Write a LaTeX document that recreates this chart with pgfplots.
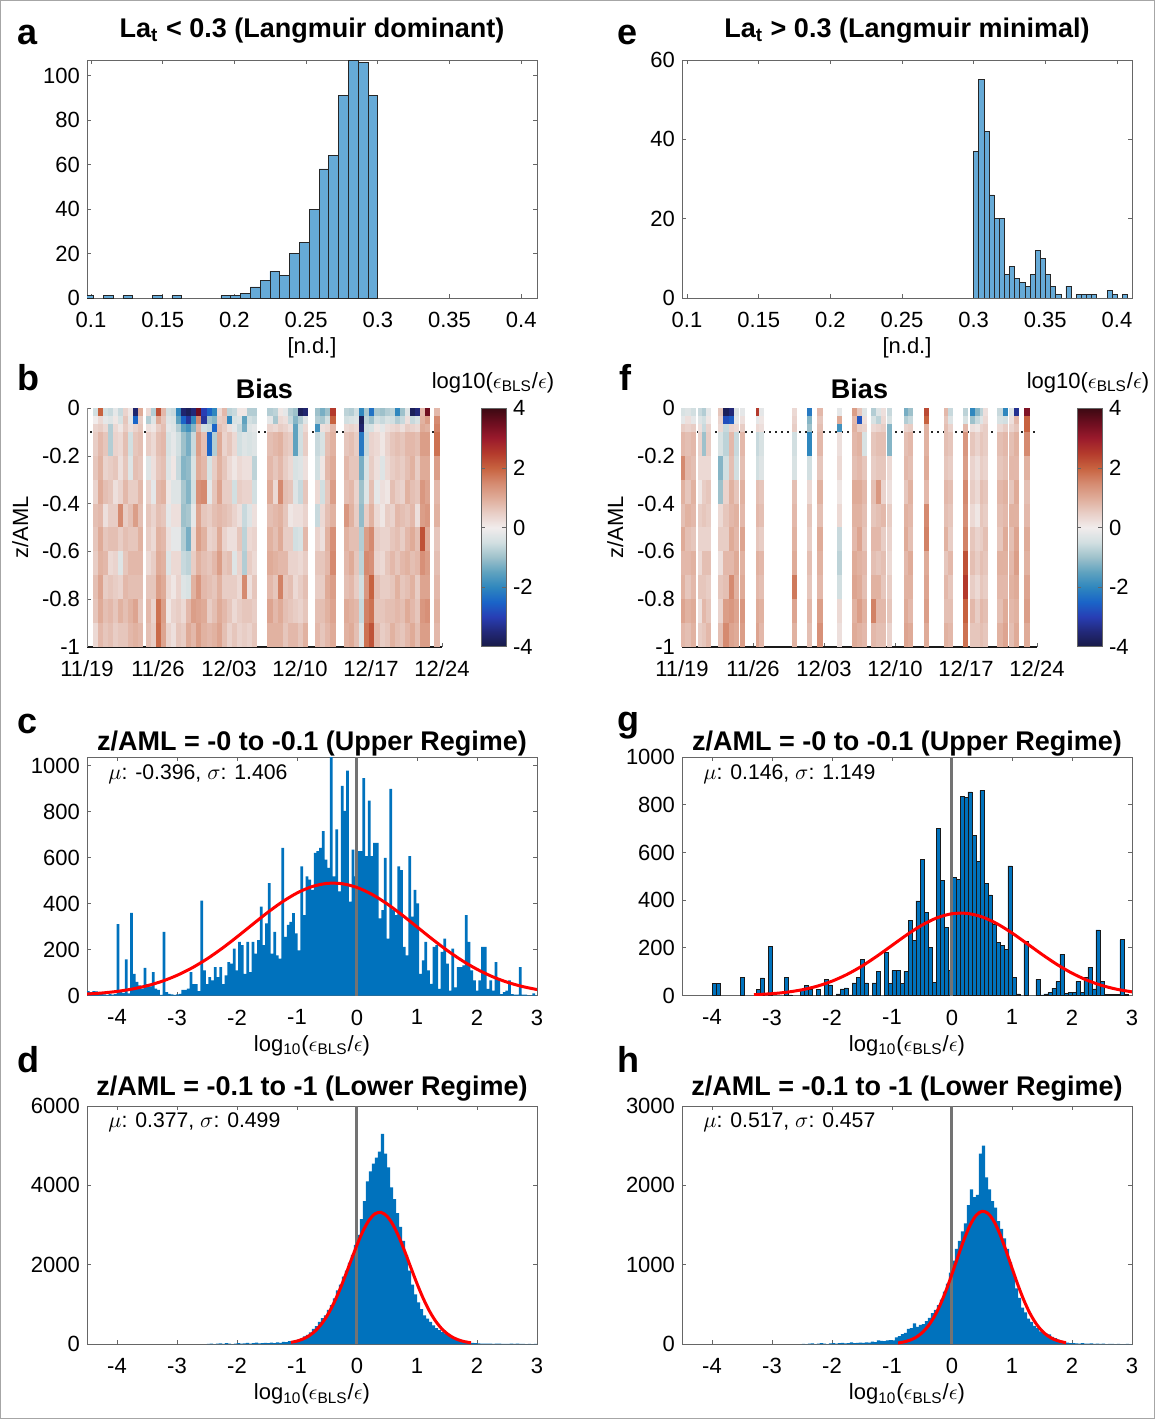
\documentclass[border=0pt]{standalone}
\usepackage{fontspec}
\setmainfont{Liberation Sans}
\usepackage{pgfplots}
\pgfplotsset{compat=1.18}
\usepackage{pgfplotstable}
\definecolor{mblue}{RGB}{0,114,189}
\definecolor{hblue}{RGB}{102,170,215}
\pgfplotsset{colormap={bias}{rgb255=(24,26,70) rgb255=(34,40,120) rgb255=(40,62,180) rgb255=(26,100,200) rgb255=(47,135,190) rgb255=(95,162,191) rgb255=(158,193,203) rgb255=(210,223,225) rgb255=(241,236,236) rgb255=(232,205,197) rgb255=(223,171,152) rgb255=(213,138,112) rgb255=(199,98,63) rgb255=(180,58,44) rgb255=(154,26,44) rgb255=(110,14,32) rgb255=(60,9,18)}}
\pgfdeclareplotmark{cellS}{\pgfpathrectangle{\pgfpoint{-1.3pt}{-2.05pt}}{\pgfpoint{2.6pt}{4.1pt}}\pgfusepathqfill}
\pgfdeclareplotmark{cellL}{\pgfpathrectangle{\pgfpoint{-1.3pt}{-6.02pt}}{\pgfpoint{2.6pt}{12.04pt}}\pgfusepathqfill}
\pgfplotsset{
 mstyle/.style={scale only axis, anchor=north west, enlargelimits=false, tick align=inside,
   axis line style={black!60, line width=0.4pt}, tick style={black!60, line width=0.4pt}, major tick length=2pt,
   ticklabel style={font=\fontsize{11}{13}\selectfont}, label style={font=\fontsize{11}{13}\selectfont},
   xticklabel style={yshift=-3.5pt}, xlabel style={yshift=1.8pt},
   /pgf/number format/assume math mode=true, /pgf/number format/1000 sep={}, scaled ticks=false,
   title style={font=\bfseries\fontsize{13.5}{15}\selectfont, at={(0.5,1)}, anchor=base}},
 hmstyle/.style={mstyle, xmin=0, xmax=35, ymin=-1, ymax=0, width=177.5pt, height=119.2pt,
   axis x line*=bottom, axis y line*=left, x axis line style={black!90, line width=1.1pt, -}, y axis line style={black!45, -},
   xtick={0,7,14,21,28,35}, xticklabels={11/19,11/26,12/03,12/10,12/17,12/24},
   ytick={-1,-0.8,-0.6,-0.4,-0.2,0}, ylabel={z/AML}, title={Bias}, title style={yshift=-1.2pt},
   colormap name=bias, point meta min=-4, point meta max=4, colorbar},
 cbstyle/.style={colorbar style={scale only axis, width=12.5pt, height=119.2pt, at={(parent axis.north east)}, anchor=north west, xshift=#1,
   ytick={-4,-2,0,2,4}, yticklabel pos=right, tick align=inside, major tick length=2pt, axis line style={black!60}, tick style={black!60},
   yticklabel style={font=\fontsize{11}{13}\selectfont}, /pgf/number format/assume math mode=true}},
}
\newcommand\epsl{log\textsubscript{10}($\epsilon$\textsubscript{BLS}/$\epsilon$)}

\pgfplotstableread{
x r1 r2 r3 r4 r5 r6 r7 r8 r9 r10 r11 r12
0.81 -0.5 0.0 0.4 0.5 0.6 0.4 0.7 0.6 0.5 0.7 0.6 0.3
1.31 2.0 0.3 0.5 0.8 0.9 1.0 0.8 1.0 0.9 1.1 1.0 0.8
1.81 -0.5 -0.2 0.3 0.6 0.4 0.7 0.2 0.6 0.8 0.5 0.7 0.6
2.31 -0.6 -0.3 -0.8 -0.8 0.5 0.6 0.5 0.7 0.3 0.6 0.8 0.7
2.81 -0.2 0.1 0.3 0.4 0.6 0.2 0.5 0.7 0.4 0.5 0.6 0.5
3.31 -0.6 -0.4 0.1 0.3 0.2 0.4 1.5 0.5 -0.3 0.4 0.9 0.6
3.81 0.4 0.6 0.5 0.7 0.6 0.8 0.5 0.7 0.6 0.8 0.7 0.6
4.31 0.1 -0.2 0.2 -0.5 -0.3 0.5 0.7 0.6 0.8 0.7 0.9 0.8
4.81 -3.6 -2.5 0.4 0.6 0.7 0.5 1.2 0.6 0.8 0.7 1.1 0.9
5.31 1.0 0.5 0.6 0.7 0.6 0.8 0.7 0.9 0.8 0.7 0.6 0.8
6.04 0.3 -0.8 0.2 0.5 -0.3 0.4 0.6 0.5 0.3 0.6 0.8 0.7
6.54 -0.8 -0.3 0.1 0.3 0.2 -0.2 0.4 0.3 0.5 0.6 0.4 0.5
7.04 2.2 1.0 0.5 0.7 0.6 0.8 0.7 0.9 1.0 1.2 1.8 1.9
7.54 0.8 0.6 0.7 0.8 0.7 0.9 0.6 0.8 0.9 1.0 1.2 1.1
8.04 -0.5 -0.3 -0.2 -0.4 -0.3 0.1 -0.2 0.2 -0.3 0.3 0.1 0.4
8.54 -0.6 -0.4 -0.3 -0.2 0.1 -0.3 0.2 -0.2 0.3 0.1 0.4 0.2
9.04 -2.0 -1.5 -0.8 -0.5 -0.6 -0.3 0.2 -0.2 0.3 0.4 0.5 0.6
9.54 -3.6 -2.5 -1.5 -1.0 -1.2 -0.9 -1.0 -0.8 -0.6 -0.3 0.3 0.5
10.04 -3.8 -3.2 -1.8 -1.3 -1.1 -1.2 -0.9 -1.3 -0.7 -0.4 0.8 1.0
10.54 -3.5 -2.0 -1.2 -0.6 -0.4 -0.5 -0.2 0.3 0.5 0.9 1.2 0.8
11.04 3.5 1.5 0.8 1.2 1.0 1.4 1.1 1.2 0.9 1.3 1.1 1.2
11.54 -3.0 -3.2 -0.5 0.7 0.8 1.5 0.6 0.9 0.7 0.8 1.0 0.9
12.04 -2.5 -1.0 -0.6 -2.5 -0.4 -0.2 0.5 0.4 0.6 0.7 0.5 0.8
12.54 -2.0 -1.2 -2.5 -0.8 0.5 0.6 0.7 0.5 0.8 0.6 0.7 0.9
13.04 0.3 0.5 0.7 1.0 0.9 1.1 0.8 1.0 1.2 0.9 1.0 1.1
13.54 0.8 0.6 0.5 0.4 0.6 0.5 0.7 0.4 0.6 0.5 0.8 0.7
14.04 -0.7 -2.0 0.2 0.6 0.3 0.5 0.6 0.2 0.7 0.5 0.6 0.4
14.54 -0.6 -0.4 -0.2 0.3 0.1 -0.5 0.4 0.2 -0.3 0.5 0.3 0.6
15.04 0.1 -0.3 -0.6 -0.5 0.3 0.5 0.2 0.6 0.4 0.3 0.5 0.4
15.54 0.1 -1.5 -1.3 -0.3 0.2 0.4 -0.6 -0.7 -0.8 1.5 0.6 0.5
16.04 -0.8 -0.5 -0.3 -0.4 0.2 0.4 -0.3 0.3 0.5 0.2 0.6 0.4
16.54 -0.8 -0.6 -0.2 -0.3 -0.7 -0.5 0.2 0.4 0.3 0.6 0.5 0.6
18.05 -0.8 -0.2 0.4 0.7 0.8 1.0 0.7 0.9 1.0 0.8 1.1 0.9
18.55 -0.7 -0.9 0.3 0.8 0.6 0.3 0.8 0.7 0.9 0.6 0.8 0.9
19.05 0.1 0.3 0.5 0.9 0.8 1.5 0.9 1.0 0.8 1.6 1.0 0.9
19.55 -0.2 0.2 0.4 0.6 0.5 0.7 0.6 0.5 0.8 0.6 0.7 0.6
20.05 -0.8 -0.6 0.2 0.5 0.3 0.6 0.1 0.5 0.4 0.7 0.6 0.8
20.55 -1.0 -1.2 -1.5 -1.5 -0.4 -0.3 0.2 -0.5 0.4 0.3 0.5 0.8
21.05 -3.8 -0.8 -0.5 -0.5 -0.3 -0.6 0.2 -0.4 0.3 0.5 0.4 0.6
21.55 -3.6 -0.3 0.3 0.5 0.2 0.6 0.4 0.8 0.5 0.7 0.6 0.9
22.75 -1.0 -0.8 -1.8 -0.6 -0.5 0.3 -0.6 0.4 0.6 0.5 0.7 0.8
23.25 -1.3 -0.9 0.2 -0.4 0.1 -0.5 0.3 0.2 0.6 0.5 0.7 0.6
23.75 -1.0 -0.5 0.3 0.7 0.8 0.6 0.7 0.9 0.8 1.0 0.9 0.8
24.25 2.5 2.0 0.8 0.9 1.0 1.2 0.9 1.4 1.5 1.2 1.1 1.0
25.6 -0.7 -0.5 0.3 0.6 0.8 0.7 1.3 0.9 0.8 0.7 1.0 0.9
26.1 -0.8 -0.4 0.4 0.7 0.6 0.8 0.9 0.7 1.0 0.8 0.9 1.0
26.6 -0.5 -0.3 0.3 0.5 0.6 0.4 0.5 0.7 0.6 0.5 0.8 0.7
27.1 -2.0 -3.8 -3.6 -2.2 -1.3 -1.0 -1.1 -0.8 -0.7 -0.5 -0.6 -0.3
27.6 -0.9 -0.7 -0.5 -0.6 -0.4 -0.3 0.5 1.2 1.5 1.3 1.6 1.8
28.1 -2.3 -1.0 -0.4 0.4 0.5 0.7 0.9 1.5 1.4 2.0 1.8 2.2
28.6 -0.9 -0.5 0.1 0.3 0.2 -0.2 0.3 0.5 0.4 0.7 0.6 0.8
29.1 -1.0 -0.6 -0.2 0.1 -0.3 0.2 0.1 0.4 0.3 0.5 0.6 0.5
29.6 -0.8 -0.4 0.2 0.4 0.3 0.1 0.5 0.4 0.6 0.5 0.7 0.6
30.1 -0.7 -0.5 0.3 0.6 0.5 0.7 0.4 0.6 0.8 0.6 0.7 0.9
30.6 -2.0 -0.8 0.4 0.7 0.6 0.5 0.8 0.7 0.6 0.9 0.8 0.7
31.1 -1.0 -0.6 0.2 0.6 0.5 0.4 0.7 0.5 0.8 0.6 0.7 0.6
31.6 -0.3 0.2 0.5 0.8 0.7 0.9 0.6 0.8 0.9 0.7 1.0 0.8
32.1 -3.8 -0.6 0.4 0.8 0.9 0.7 0.8 1.0 0.7 0.9 0.8 1.0
32.6 -3.5 -0.4 0.3 0.7 0.5 0.6 0.2 0.7 0.8 0.5 0.6 0.7
33.1 0.8 0.9 1.0 1.2 1.0 1.3 1.2 2.2 1.4 1.1 1.3 1.2
33.6 3.5 1.2 0.9 1.2 1.0 1.1 1.3 1.0 1.2 1.1 1.4 1.2
34.5 0.8 1.5 1.6 1.8 1.2 0.8 0.9 0.6 0.7 0.8 0.9 0.8
}\biasB

\pgfplotstableread{
x r1 r2 r3 r4 r5 r6 r7 r8 r9 r10 r11 r12
0.2 -0.4 -0.2 0.5 0.8 1.5 0.9 0.7 1.0 0.8 0.9 1.1 0.8
0.6 -0.3 0.2 0.4 0.7 0.8 0.6 0.9 0.7 0.8 0.6 0.9 0.7
1.12 -0.5 -0.2 0.5 0.8 0.7 0.9 0.8 0.6 0.9 0.8 1.0 0.9
1.8 -0.6 -0.3 0.2 0.4 0.3 0.1 0.5 0.4 0.3 0.6 0.2 0.5
2.2 -0.8 -0.5 -0.6 -1.0 0.3 0.5 0.6 0.4 0.7 0.6 0.8 0.6
2.6 -0.2 0.1 0.4 0.5 0.3 0.6 0.5 0.4 0.7 0.5 0.6 0.8
3.8 0.6 0.4 0.3 -0.4 -1.2 -1.0 0.3 0.5 0.2 0.6 0.4 0.7
4.33 -3.8 -2.8 -0.6 -0.7 -0.5 0.4 0.6 0.5 0.8 0.7 1.2 1.5
4.86 -3.5 -2.6 0.4 0.8 0.7 0.9 0.8 1.0 0.8 1.5 1.3 1.1
5.4 -0.3 -0.2 0.3 -0.6 -0.5 0.6 0.9 0.8 1.0 0.9 1.1 1.0
5.95 -0.2 0.2 0.5 0.8 0.7 0.9 0.8 1.1 0.9 1.0 1.3 1.2
7.55 2.5 -0.2 0.3 -0.6 -0.5 0.7 0.8 0.6 0.9 0.8 1.0 1.1
7.85 -0.2 0.1 0.2 -0.4 -0.3 0.6 0.7 0.5 0.8 0.7 0.9 0.8
11.07 0.3 0.4 0.5 -0.5 -0.4 0.7 0.8 0.9 1.0 1.7 1.1 0.9
12.55 -2.2 -1.2 -1.0 -2.0 -0.5 0.3 0.6 0.5 0.7 0.6 0.8 0.7
13.6 0.8 0.6 0.7 0.8 0.6 0.9 0.7 1.0 0.9 0.8 1.2 1.4
15.5 -0.2 1.0 -1.8 0.2 0.3 0.1 0.3 -0.6 -0.7 -0.5 0.3 0.2
16.98 1.2 0.8 0.9 0.8 0.7 1.0 0.9 0.8 1.0 1.1 0.9 1.0
17.47 0.6 -2.7 0.5 0.9 0.8 1.0 0.9 1.1 0.9 1.0 1.2 0.9
17.96 -0.3 0.2 0.4 -0.4 0.6 0.8 0.7 0.6 0.8 0.7 0.9 0.8
18.85 -0.8 -0.4 0.3 0.6 0.5 0.7 0.6 0.8 0.7 0.9 1.6 0.8
19.37 -0.3 -0.7 0.4 0.7 0.6 1.3 0.7 0.8 0.6 0.9 0.8 0.7
19.9 0.2 0.3 0.5 0.7 0.6 0.4 0.8 0.5 0.7 0.6 0.8 0.7
20.45 -0.6 -0.4 -1.2 -1.2 0.3 0.2 0.5 0.4 0.3 0.5 0.6 0.4
22.15 -1.3 -0.8 0.4 0.7 0.8 0.6 0.9 1.0 0.8 0.9 1.0 1.1
22.55 -1.0 -0.6 0.5 0.8 0.7 0.9 0.8 0.7 1.0 0.9 0.8 1.0
24.12 2.3 2.0 0.9 0.9 1.0 0.8 1.5 1.6 1.0 1.1 1.2 1.0
26.05 0.8 0.6 0.7 0.7 0.6 0.8 0.7 0.9 0.6 0.8 0.7 0.9
26.45 -0.6 -0.3 0.4 0.6 0.5 0.7 0.6 0.5 0.8 0.6 0.7 0.8
27.95 -0.7 -0.4 0.8 1.3 1.2 1.5 1.4 1.6 2.2 2.5 2.0 1.8
28.65 -2.0 -1.0 0.2 0.6 0.4 0.5 0.3 0.6 0.7 0.5 0.8 0.6
29.15 -1.2 -0.6 0.1 0.4 0.2 0.3 0.1 0.4 0.5 0.3 0.5 0.6
29.6 -0.7 -0.3 0.4 0.6 0.5 0.7 0.6 0.5 0.7 0.6 0.8 0.7
29.95 0.2 0.3 0.5 0.5 0.4 0.6 0.5 0.7 0.6 0.5 0.7 0.6
31.35 -0.6 -0.4 0.3 0.7 0.6 0.8 0.7 0.6 0.9 0.8 0.7 0.9
31.9 -2.0 -0.5 0.5 0.8 0.7 0.9 0.8 1.0 0.9 0.8 1.0 1.1
32.45 -0.3 0.2 0.4 0.7 0.8 0.6 0.9 0.7 0.8 0.9 0.8 0.7
32.97 -3.3 0.8 0.6 0.9 0.8 1.0 0.9 1.1 1.2 1.0 0.9 1.0
34.02 3.3 2.0 2.0 1.5 0.9 0.7 0.8 1.0 0.9 1.1 1.2 1.0
}\biasF

\pgfplotstableread{
x y
-4.4775 20
-4.4325 15
-4.3875 20
-4.3425 18
-4.2975 12
-4.2525 8
-4.2075 5
-4.1625 3
-4.1175 8
-4.0725 4
-4.0275 6
-3.9825 311
-3.9375 15
-3.8925 12
-3.8475 158
-3.8025 10
-3.7575 360
-3.7125 95
-3.6675 60
-3.6225 45
-3.5775 30
-3.5325 121
-3.4875 50
-3.4425 40
-3.3975 102
-3.3525 30
-3.3075 25
-3.2625 3
-3.2175 277
-3.1725 15
-3.1275 8
-3.0825 5
-3.0375 3
-2.9925 5
-2.9475 8
-2.9025 25
-2.8575 25
-2.8125 30
-2.7675 102
-2.7225 50
-2.6775 50
-2.6325 20
-2.5875 413
-2.5425 110
-2.4975 50
-2.4525 80
-2.4075 66
-2.3625 124
-2.3175 80
-2.2725 124
-2.2275 50
-2.1825 88
-2.1375 146
-2.0925 139
-2.0475 204
-2.0025 110
-1.9575 234
-1.9125 219
-1.8675 95
-1.8225 234
-1.7775 102
-1.7325 234
-1.6875 182
-1.6425 241
-1.5975 387
-1.5525 219
-1.5075 314
-1.4625 489
-1.4175 182
-1.3725 277
-1.3275 175
-1.2825 161
-1.2375 642
-1.1925 255
-1.1475 307
-1.1025 321
-1.0575 358
-1.0125 270
-0.9675 197
-0.9225 562
-0.8775 350
-0.8325 518
-0.7875 504
-0.7425 460
-0.6975 620
-0.6525 628
-0.6075 642
-0.5625 715
-0.5175 591
-0.4725 555
-0.4275 1040
-0.3825 518
-0.3375 723
-0.2925 453
-0.2475 912
-0.2025 803
-0.1575 978
-0.1125 409
-0.0675 635
-0.0225 518
0.0225 628
0.0675 628
0.1125 945
0.1575 606
0.2025 847
0.2475 606
0.2925 664
0.3375 664
0.3825 336
0.4275 372
0.4725 599
0.5175 248
0.5625 898
0.6075 372
0.6525 350
0.6975 562
0.7425 545
0.7875 212
0.8325 175
0.8775 606
0.9225 343
0.9675 460
1.0125 401
1.0575 95
1.1025 153
1.1475 234
1.1925 110
1.2375 51
1.2825 212
1.3275 219
1.3725 29
1.4175 190
1.4625 248
1.5075 139
1.5525 22
1.5975 204
1.6425 36
1.6875 124
1.7325 124
1.7775 131
1.8225 350
1.8675 234
1.9125 110
1.9575 66
2.0025 22
2.0475 66
2.0925 212
2.1375 212
2.1825 29
2.2275 66
2.2725 22
2.3175 146
2.3625 73
2.4075 7
2.4525 15
2.4975 22
2.5425 66
2.5875 7
2.6325 4
2.6775 4
2.7225 124
2.7675 4
2.8125 4
2.8575 1
2.9025 1
2.9475 10
2.9925 1
}\histC

\pgfplotstableread{
x y
-3.9667 52
-3.9 52
-3.5 77
-3.2333 26
-3.1667 74
-3.0333 205
-2.7667 77
-2.7 3
-2.5 24
-2.4333 42
-2.3667 26
-2.2333 26
-2.1 68
-2.0333 45
-1.9 7
-1.8333 28
-1.7667 32
-1.7 3
-1.6333 53
-1.5667 77
-1.5 153
-1.4333 53
-1.3 53
-1.2333 100
-1.1 181
-1.0333 52
-0.9667 105
-0.9 107
-0.8333 52
-0.7667 102
-0.7 314
-0.6333 233
-0.5667 397
-0.5 571
-0.4333 348
-0.3667 202
-0.3 56
-0.2333 701
-0.1667 484
-0.1 286
-0.0333 107
0.0333 495
0.1 488
0.1667 836
0.2333 832
0.3 854
0.3667 673
0.4333 564
0.5 860
0.5667 470
0.6333 422
0.7 297
0.7667 223
0.8333 209
0.9 195
0.9667 544
1.0333 77
1.1 7
1.2333 227
1.4333 68
1.5 3
1.5667 7
1.6333 13
1.7 31
1.7667 59
1.8333 174
1.9 10
1.9667 13
2.0333 13
2.1 60
2.1667 14
2.2333 77
2.3 118
2.3667 28
2.4333 275
2.5 59
2.5667 4
2.6333 4
2.7 4
2.7667 4
2.8333 234
2.9 4
}\histG

\pgfplotstableread{
x d h
-2.475 5 3
-2.425 12 0
-2.375 0 5
-2.325 8 8
-2.275 15 0
-2.225 5 4
-2.175 20 10
-2.125 10 6
-2.075 0 0
-2.025 12 8
-1.975 25 12
-1.925 8 5
-1.875 15 10
-1.825 30 15
-1.775 10 8
-1.725 20 12
-1.675 35 20
-1.625 15 10
-1.575 25 15
-1.525 30 18
-1.475 20 15
-1.425 35 22
-1.375 25 18
-1.325 40 30
-1.275 30 25
-1.225 55 45
-1.175 45 40
-1.125 70 35
-1.075 60 45
-1.025 95 50
-0.975 110 45
-0.925 140 85
-0.875 190 100
-0.825 230 125
-0.775 290 140
-0.725 380 190
-0.675 450 200
-0.625 560 260
-0.575 650 215
-0.525 720 240
-0.475 860 250
-0.425 980 290
-0.375 1150 330
-0.325 1350 390
-0.275 1500 430
-0.225 1700 490
-0.175 1850 560
-0.125 2050 660
-0.075 2250 760
-0.025 2500 900
0.025 2750 1050
0.075 3150 1200
0.125 3600 1300
0.175 4100 1420
0.225 4350 1520
0.275 4550 1750
0.325 4700 1950
0.375 4850 1850
0.425 5300 1880
0.475 4800 2400
0.525 4450 2500
0.575 3950 2100
0.625 3650 1950
0.675 3300 1800
0.725 2950 1720
0.775 2600 1550
0.825 2250 1450
0.875 1850 1330
0.925 1500 1200
0.975 1250 1030
1.025 1050 900
1.075 880 700
1.125 720 580
1.175 640 460
1.225 560 400
1.275 470 320
1.325 400 280
1.375 350 230
1.425 300 200
1.475 270 160
1.525 230 145
1.575 170 130
1.625 130 120
1.675 105 90
1.725 85 75
1.775 60 55
1.825 45 40
1.875 35 25
1.925 30 18
1.975 20 12
2.025 15 10
2.075 10 8
2.125 12 5
2.175 8 10
2.225 10 6
2.275 5 4
2.325 8 8
2.375 12 3
2.425 5 5
2.475 6 2
2.525 3 4
2.575 8 0
2.625 4 3
2.675 10 2
2.725 2 0
2.775 5 1
2.825 0 0
2.875 3 0
2.925 0 1
2.975 2 0
}\histDH

\begin{document}
\begin{tikzpicture}
\useasboundingbox (0,0) rectangle (577.5pt,-709.5pt);
\draw[black!35, line width=0.5pt] (0.4pt,-0.4pt) rectangle (577.1pt,-709.1pt);

% ---------- a ----------
\begin{axis}[mstyle, at={(43.5pt,-30pt)}, width=225pt, height=119pt,
  xmin=0.0972, xmax=0.411, ymin=0, ymax=107,
  xtick={0.1,0.15,0.2,0.25,0.3,0.35,0.4}, ytick={0,20,40,60,80,100},
  xlabel={[n.d.]}, title={La\textsubscript{t} < 0.3 (Langmuir dominant)}, title style={yshift=5.2pt}]
\addplot[ybar, bar width=0.006837, fill=hblue, draw=black!85, line width=0.35pt] coordinates {
(0.29658,91) (0.28974,106) (0.28291,107) (0.27607,91) (0.26923,64) (0.26240,58) (0.25556,40)
(0.24872,25) (0.24188,20) (0.23505,10) (0.22821,12) (0.22137,8) (0.21454,5) (0.20770,2)
(0.20086,1) (0.19403,1) (0.15984,1) (0.14617,1) (0.12566,1) (0.11198,1) (0.09831,1)};
\end{axis}

% ---------- e ----------
\begin{axis}[mstyle, at={(341pt,-30pt)}, width=225pt, height=119pt,
  xmin=0.0965, xmax=0.4105, ymin=0, ymax=60,
  xtick={0.1,0.15,0.2,0.25,0.3,0.35,0.4}, ytick={0,20,40,60},
  xlabel={[n.d.]}, title={La\textsubscript{t} > 0.3 (Langmuir minimal)}, title style={yshift=5.2pt}]
\addplot[ybar, bar width=0.00358, fill=hblue, draw=black!85, line width=0.35pt] coordinates {
(0.30179,37) (0.30537,55) (0.30895,42) (0.31253,26) (0.31611,20) (0.31969,20) (0.32327,6)
(0.32685,8) (0.33043,5) (0.33401,4) (0.33759,3) (0.34117,6) (0.34475,12) (0.34833,10)
(0.35191,6) (0.35549,3) (0.35907,1) (0.36623,3) (0.37339,1) (0.37697,1) (0.38055,1)
(0.38413,1) (0.39487,2) (0.39845,1) (0.40561,1)};
\end{axis}

% ---------- b ----------
\begin{axis}[hmstyle, at={(43.5pt,-204.15pt)}, cbstyle=11pt]
\pgfplotsinvokeforeach{1,2,3}{
\addplot[scatter, only marks, mark=cellS, scatter src=explicit] table[x=x, y expr={-0.016667-0.033333*(#1-1)}, meta=r#1] {\biasB};}
\pgfplotsinvokeforeach{4,...,12}{
\addplot[scatter, only marks, mark=cellL, scatter src=explicit] table[x=x, y expr={-0.15-0.1*(#1-4)}, meta=r#1] {\biasB};}
\addplot[black!85, line width=0.8pt, dash pattern=on 0.8pt off 2.2pt] coordinates {(0.3,-0.1) (34.8,-0.1)};
\end{axis}

% ---------- f ----------
\begin{axis}[hmstyle, at={(341pt,-204.15pt)}, cbstyle=11.5pt]
\pgfplotsinvokeforeach{1,2,3}{
\addplot[scatter, only marks, mark=cellS, scatter src=explicit] table[x=x, y expr={-0.016667-0.033333*(#1-1)}, meta=r#1] {\biasF};}
\pgfplotsinvokeforeach{4,...,12}{
\addplot[scatter, only marks, mark=cellL, scatter src=explicit] table[x=x, y expr={-0.15-0.1*(#1-4)}, meta=r#1] {\biasF};}
\addplot[black!85, line width=0.8pt, dash pattern=on 0.8pt off 2.2pt] coordinates {(0.3,-0.1) (34.8,-0.1)};
\end{axis}

% ---------- c ----------
\begin{axis}[mstyle, at={(43.5pt,-378.5pt)}, width=225pt, height=119.3pt,
  xmin=-4.5, xmax=3, ymin=0, ymax=1037, xtick={-4,-3,-2,-1,0,1,2,3}, ytick={0,200,400,600,800,1000},
  xlabel={\epsl}, title={z/AML = -0 to -0.1 (Upper Regime)}, title style={yshift=-2.6pt}]
\addplot[ybar, bar width=0.046, fill=mblue, draw=none] table[x=x, y=y] {\histC};
\addplot[black!55, line width=1.5pt] coordinates {(0,0) (0,1037)};
\addplot[red, line width=1.5pt, smooth] coordinates {(-4.5,6.9) (-4.25,11.4) (-4,18.3) (-3.75,28.4) (-3.5,42.8) (-3.25,62.3) (-3,88.0) (-2.75,120.4) (-2.5,159.6) (-2.25,205.0) (-2,255.1) (-1.75,307.5) (-1.5,359.3) (-1.25,406.6) (-1,445.9) (-0.75,473.7) (-0.5,487.7) (-0.25,486.4) (0,470.0) (0.25,440.0) (0.5,399.1) (0.75,350.8) (1,298.7) (1.25,246.5) (1.5,197.0) (1.75,152.6) (2,114.5) (2.25,83.2) (2.5,58.6) (2.75,40.0) (3,26.4)};
\node[anchor=base west, font=\fontsize{10.6}{12}\selectfont] at (rel axis cs:0.032,0.905) {$\mu$: -0.396, $\sigma$: 1.406};
\end{axis}

% ---------- g ----------
\begin{axis}[mstyle, at={(341pt,-378.5pt)}, width=225pt, height=119.3pt,
  xmin=-4.5, xmax=3, ymin=0, ymax=1000, xtick={-4,-3,-2,-1,0,1,2,3}, ytick={0,200,400,600,800,1000},
  xlabel={\epsl}, title={z/AML = -0 to -0.1 (Upper Regime)}, title style={yshift=-2.6pt}]
\addplot[ybar, bar width=0.06667, fill=mblue, draw=black!90, line width=0.3pt] table[x=x, y=y] {\histG};
\addplot[black!55, line width=1.5pt] coordinates {(0,0) (0,1000)};
\addplot[red, line width=1.5pt, smooth] coordinates {(-3.3,3.9) (-3,8.1) (-2.75,14.4) (-2.5,24.4) (-2.25,39.3) (-2,60.5) (-1.75,88.7) (-1.5,124.0) (-1.25,165.4) (-1,210.4) (-0.75,255.3) (-0.5,295.4) (-0.25,326.0) (0,343.2) (0.25,344.6) (0.5,330.0) (0.75,301.4) (1,262.5) (1.25,218.1) (1.5,172.8) (1.75,130.6) (2,94.1) (2.25,64.7) (2.5,42.4) (2.75,26.5) (3,15.8)};
\node[anchor=base west, font=\fontsize{10.6}{12}\selectfont] at (rel axis cs:0.032,0.905) {$\mu$: 0.146, $\sigma$: 1.149};
\end{axis}

% ---------- d ----------
\begin{axis}[mstyle, at={(43.5pt,-553pt)}, width=225pt, height=119pt,
  xmin=-4.5, xmax=3, ymin=0, ymax=6000, xtick={-4,-3,-2,-1,0,1,2,3}, ytick={0,2000,4000,6000},
  xlabel={\epsl}, title={z/AML = -0.1 to -1 (Lower Regime)}, title style={yshift=-0.8pt}]
\addplot[ybar, bar width=0.051, fill=mblue, draw=none] table[x=x, y=d] {\histDH};
\addplot[black!55, line width=1.5pt] coordinates {(0,0) (0,6000)};
\addplot[red, line width=1.5pt, smooth] coordinates {(-1.1,41.6) (-1,73.8) (-0.9,125.7) (-0.8,205.7) (-0.7,323.5) (-0.6,488.8) (-0.5,709.0) (-0.4,988.3) (-0.3,1323.6) (-0.2,1702.6) (-0.1,2103.8) (0,2497.2) (0.1,2847.6) (0.2,3119.4) (0.3,3282.7) (0.4,3318.5) (0.5,3222.6) (0.6,3006.4) (0.7,2694.2) (0.8,2319.4) (0.9,1918.2) (1,1523.7) (1.1,1162.8) (1.2,852.4) (1.3,600.4) (1.4,406.3) (1.5,264.0) (1.6,164.9) (1.7,98.9) (1.8,57.0) (1.9,31.5)};
\node[anchor=base west, font=\fontsize{10.6}{12}\selectfont] at (rel axis cs:0.032,0.91) {$\mu$: 0.377, $\sigma$: 0.499};
\end{axis}

% ---------- h ----------
\begin{axis}[mstyle, at={(341pt,-553pt)}, width=225pt, height=119pt,
  xmin=-4.5, xmax=3, ymin=0, ymax=3000, xtick={-4,-3,-2,-1,0,1,2,3}, ytick={0,1000,2000,3000},
  xlabel={\epsl}, title={z/AML = -0.1 to -1 (Lower Regime)}, title style={yshift=-0.8pt}]
\addplot[ybar, bar width=0.051, fill=mblue, draw=none] table[x=x, y=h] {\histDH};
\addplot[black!55, line width=1.5pt] coordinates {(0,0) (0,3000)};
\addplot[red, line width=1.5pt, smooth] coordinates {(-0.9,13.7) (-0.8,26.3) (-0.7,48.3) (-0.6,84.4) (-0.5,140.7) (-0.4,223.6) (-0.3,338.6) (-0.2,489.0) (-0.1,672.9) (0,882.7) (0.1,1104.0) (0.2,1316.1) (0.3,1495.5) (0.4,1620.1) (0.5,1672.8) (0.6,1646.6) (0.7,1545.1) (0.8,1381.9) (0.9,1178.2) (1,957.7) (1.1,741.9) (1.2,547.9) (1.3,385.7) (1.4,259.0) (1.5,165.6) (1.6,101.0) (1.7,58.7) (1.8,32.5) (1.9,17.2)};
\node[anchor=base west, font=\fontsize{10.6}{12}\selectfont] at (rel axis cs:0.032,0.91) {$\mu$: 0.517, $\sigma$: 0.457};
\end{axis}

% colorbar labels
\node[font=\fontsize{11}{13}\selectfont, anchor=base] at (246.5pt,-194pt) {log10($\epsilon$\textsubscript{BLS}/$\epsilon$)};
\node[font=\fontsize{11}{13}\selectfont, anchor=base] at (544pt,-194pt) {log10($\epsilon$\textsubscript{BLS}/$\epsilon$)};

% panel letters
\begin{scope}[every node/.style={font=\bfseries\fontsize{18}{20}\selectfont, anchor=base west, inner sep=0pt}]
\node at (8.5pt,-22pt) {a};
\node at (8.5pt,-195pt) {b};
\node at (8.5pt,-366.5pt) {c};
\node at (8.5pt,-536pt) {d};
\node at (308.5pt,-22pt) {e};
\node at (309.5pt,-195pt) {f};
\node at (308.5pt,-365.5pt) {g};
\node at (308.5pt,-536pt) {h};
\end{scope}
\end{tikzpicture}
\end{document}
